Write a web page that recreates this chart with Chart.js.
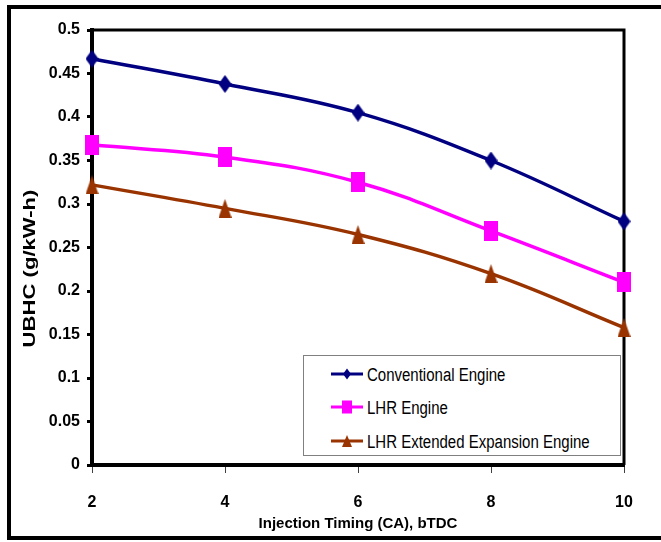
<!DOCTYPE html>
<html>
<head>
<meta charset="utf-8">
<script src="https://cdn.jsdelivr.net/npm/chart.js@4.4.1/dist/chart.umd.min.js"></script>
<style>
body { margin: 0; background: #fff; overflow: hidden; }
#wrap { position: relative; width: 661px; height: 542px; overflow: hidden; }
#frame { position: absolute; left: 7px; top: 5px; width: 800px; height: 535px; border: 4px solid #000; box-sizing: border-box; }
#g_ubhc { position: absolute; left: 0; top: 0; }
#legende { position: absolute; left: 303px; top: 355px; width: 318px; height: 101px; box-sizing: border-box;
  border: 1px solid #808080; background: #fff; font-family: "Liberation Sans", Arial, sans-serif; font-size: 15px; color: #000; }
.ligne { position: absolute; left: 27px; height: 20px; display: flex; align-items: center; white-space: nowrap; }
.ligne span { margin-left: 4px; display: inline-block; transform: scaleY(1.2); }
</style>
</head>
<body>
<div id="wrap">
  <div id="frame"></div>
  <canvas id="g_ubhc" width="661" height="542"></canvas>
  <div id="legende"></div>
</div>
<script>
// données
const abscisses = ['2', '4', '6', '8', '10'];
const conventionnel = [0.467, 0.438, 0.405, 0.350, 0.280];
const lhr = [0.368, 0.354, 0.325, 0.269, 0.210];
const lhrDetente = [0.322, 0.295, 0.265, 0.220, 0.158];
const nomsSeries = ['Conventional Engine', 'LHR Engine', 'LHR Extended Expansion Engine'];
const couleurs = ['#000080', '#FF00FF', '#993300'];
const formes = ['losange', 'carre', 'triangle'];
const titreX = 'Injection Timing (CA), bTDC';
const titreY = 'UBHC (g/kW-h)';

const police = '"Liberation Sans", Arial, sans-serif';

// dessine un marqueur dans un petit canvas (les marqueurs d'origine sont étirés en hauteur)
function marqueur(forme, couleur, w, h) {
    const c = document.createElement('canvas');
    c.width = w;
    c.height = h;
    const g = c.getContext('2d');
    g.fillStyle = couleur;
    g.beginPath();
    if (forme === 'losange') {
        g.moveTo(w / 2, 0); g.lineTo(w, h / 2); g.lineTo(w / 2, h); g.lineTo(0, h / 2);
    } else if (forme === 'carre') {
        g.rect(0, 0, w, h);
    } else {
        g.moveTo(w / 2, 0); g.lineTo(w, h); g.lineTo(0, h);
    }
    g.closePath();
    g.fill();
    return c;
}

const tailles = { losange: [13, 18], carre: [14, 20], triangle: [13, 19] };
const taillesLegende = { losange: [8, 11], carre: [10, 13], triangle: [10, 12] };

// bordure haute et droite du cadre + titre vertical
const cadre = {
    id: 'cadre',
    beforeDatasetsDraw(chart) {
        const { ctx, chartArea: a } = chart;
        ctx.save();
        ctx.strokeStyle = '#000';
        ctx.lineWidth = 3;
        ctx.beginPath();
        ctx.moveTo(a.left, a.top);
        ctx.lineTo(a.right, a.top);
        ctx.lineTo(a.right, a.bottom);
        ctx.stroke();
        ctx.restore();
    },
    afterDraw(chart) {
        const { ctx, chartArea: a } = chart;
        ctx.save();
        ctx.translate(30, (a.top + a.bottom) / 2 + 21);
        ctx.rotate(-Math.PI / 2);
        ctx.scale(1.3, 1);
        ctx.font = 'bold 17px ' + police;
        ctx.textAlign = 'center';
        ctx.textBaseline = 'middle';
        ctx.fillStyle = '#000';
        ctx.fillText(titreY, 0, 0);
        ctx.restore();
    }
};

const series = [conventionnel, lhr, lhrDetente];
const datasets = series.map(function(valeurs, i) {
    const t = tailles[formes[i]];
    return {
        label: nomsSeries[i],
        data: valeurs,
        borderColor: couleurs[i],
        backgroundColor: couleurs[i],
        borderWidth: 3.5,
        tension: 0.4,
        pointStyle: marqueur(formes[i], couleurs[i], t[0], t[1]),
        pointRadius: 8,
        clip: false
    };
});

const ctx = document.getElementById('g_ubhc').getContext('2d');
new Chart(ctx, {
    type: 'line',
    data: { labels: abscisses, datasets: datasets },
    options: {
        responsive: false,
        animation: false,
        events: [],
        layout: { padding: { top: 30, right: 37, left: 0, bottom: 0 }, autoPadding: false },
        plugins: { legend: { display: false }, tooltip: { enabled: false } },
        scales: {
            x: {
                offset: false,
                grid: { drawOnChartArea: false, tickLength: 8, tickColor: '#404040', tickWidth: 1 },
                border: { color: '#000', width: 4 },
                ticks: { color: '#000', font: { family: police, size: 16, weight: 'bold' }, padding: 20, maxRotation: 0 },
                title: { display: true, text: titreX, color: '#000', font: { family: police, size: 15, weight: 'bold' }, padding: { top: 0, bottom: 9 } },
                afterFit: function(s) { s.height = 77; }
            },
            y: {
                min: 0,
                max: 0.5,
                grid: { drawOnChartArea: false, tickLength: 5, tickColor: '#000', tickWidth: 3 },
                border: { color: '#000', width: 4 },
                ticks: {
                    stepSize: 0.05,
                    color: '#000',
                    padding: 7,
                    font: { family: police, size: 16, weight: 'bold' },
                    callback: function(v) { return String(parseFloat(v.toFixed(2))); }
                },
                afterFit: function(s) { s.width = 92; }
            }
        }
    },
    plugins: [cadre]
});

// légende HTML
const legende = document.getElementById('legende');
const centres = [18, 51, 85];
nomsSeries.forEach(function(nom, i) {
    const t = taillesLegende[formes[i]];
    const ligne = document.createElement('div');
    ligne.className = 'ligne';
    ligne.style.top = (centres[i] - 10) + 'px';
    const svg = document.createElementNS('http://www.w3.org/2000/svg', 'svg');
    svg.setAttribute('width', 32);
    svg.setAttribute('height', 20);
    let forme;
    const cx = 16, cy = 10, w = t[0], h = t[1];
    if (formes[i] === 'losange') {
        forme = '<polygon points="' + cx + ',' + (cy - h / 2) + ' ' + (cx + w / 2) + ',' + cy + ' ' + cx + ',' + (cy + h / 2) + ' ' + (cx - w / 2) + ',' + cy + '" fill="' + couleurs[i] + '"/>';
    } else if (formes[i] === 'carre') {
        forme = '<rect x="' + (cx - w / 2) + '" y="' + (cy - h / 2) + '" width="' + w + '" height="' + h + '" fill="' + couleurs[i] + '"/>';
    } else {
        forme = '<polygon points="' + cx + ',' + (cy - h / 2) + ' ' + (cx + w / 2) + ',' + (cy + h / 2) + ' ' + (cx - w / 2) + ',' + (cy + h / 2) + '" fill="' + couleurs[i] + '"/>';
    }
    svg.innerHTML = '<line x1="0" y1="10" x2="32" y2="10" stroke="' + couleurs[i] + '" stroke-width="3"/>' + forme;
    const texte = document.createElement('span');
    texte.textContent = nom;
    ligne.appendChild(svg);
    ligne.appendChild(texte);
    legende.appendChild(ligne);
});
</script>
</body>
</html>
